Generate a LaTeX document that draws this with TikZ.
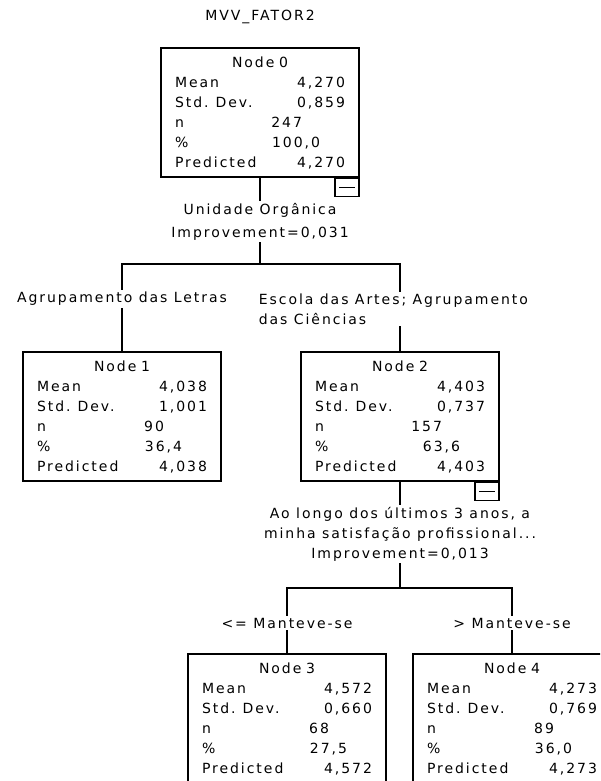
\documentclass[tikz,border=0pt]{standalone}
\usepackage{fontspec}
\setmainfont{DejaVu Sans}[LetterSpace=14]
\usetikzlibrary{positioning,fit,calc}
\tikzset{>=latex}
\tikzset{
	statbox/.style={draw=black, line width=1.6pt, fill=white, minimum width=198pt, minimum height=129pt, text width=170pt, align=left, inner sep=0pt},
	minusbox/.style={draw=black, line width=1.6pt, fill=white, minimum width=24pt, minimum height=18pt, inner sep=0pt,
		path picture={\draw[line width=1pt] ([xshift=4pt]path picture bounding box.west) -- ([xshift=-4pt]path picture bounding box.east);}},
	splitlabel/.style={fill=white, align=center, inner sep=2pt},
}

\begin{document}
\begin{tikzpicture}[x=1pt, y=-1pt, line width=1.6pt, font=\fontsize{14pt}{20pt}\selectfont]

	\useasboundingbox (0,0) rectangle (600,781);
	\clip (0,0) rectangle (600,781);

	\node (title) at (260,17) {MVV\_FATOR2};

	\coordinate (bar0) at (260,264);
	\coordinate (bar2) at (400,588);

	\node (node0) [statbox] at (260,112.5) {\makebox[170pt]{Node 0}\\
		\makebox[170pt]{Mean\hfill 4,270}\\
		\makebox[170pt]{Std. Dev.\hfill 0,859}\\
		\makebox[127pt]{n\hfill 247}\\
		\makebox[145pt]{\%\hfill 100,0}\\
		\makebox[170pt]{Predicted\hfill 4,270}};
	\node (node1) [statbox] at (122,416.5) {\makebox[170pt]{Node 1}\\
		\makebox[170pt]{Mean\hfill 4,038}\\
		\makebox[170pt]{Std. Dev.\hfill 1,001}\\
		\makebox[127pt]{n\hfill 90}\\
		\makebox[145pt]{\%\hfill 36,4}\\
		\makebox[170pt]{Predicted\hfill 4,038}};
	\node (node2) [statbox] at (400,416.5) {\makebox[170pt]{Node 2}\\
		\makebox[170pt]{Mean\hfill 4,403}\\
		\makebox[170pt]{Std. Dev.\hfill 0,737}\\
		\makebox[127pt]{n\hfill 157}\\
		\makebox[145pt]{\%\hfill 63,6}\\
		\makebox[170pt]{Predicted\hfill 4,403}};
	\node (node3) [statbox] at (287,718.5) {\makebox[170pt]{Node 3}\\
		\makebox[170pt]{Mean\hfill 4,572}\\
		\makebox[170pt]{Std. Dev.\hfill 0,660}\\
		\makebox[127pt]{n\hfill 68}\\
		\makebox[145pt]{\%\hfill 27,5}\\
		\makebox[170pt]{Predicted\hfill 4,572}};
	\node (node4) [statbox] at (512,718.5) {\makebox[170pt]{Node 4}\\
		\makebox[170pt]{Mean\hfill 4,273}\\
		\makebox[170pt]{Std. Dev.\hfill 0,769}\\
		\makebox[127pt]{n\hfill 89}\\
		\makebox[145pt]{\%\hfill 36,0}\\
		\makebox[170pt]{Predicted\hfill 4,273}};

	\node (node0-minus) [minusbox, anchor=north east] at (node0.south east) {};
	\node (node2-minus) [minusbox, anchor=north east] at (node2.south east) {};

	% splits
	\draw (node0.south) -- (bar0);
	\draw (node1.north) |- (bar0) -| (node2.north);
	\draw (node2.south) -- (bar2);
	\draw (node3.north) |- (bar2) -| (node4.north);

	\node (split0) [splitlabel] at (260,221.5) {Unidade Orgânica\\[3pt]Improvement=0,031};
	\node (branch1) [splitlabel] at (122,299) {Agrupamento das Letras};
	\node (branch2) [splitlabel, anchor=west, align=left] at (256,309) {Escola das Artes; Agrupamento\\das Ciências};

	\node (split2) [splitlabel] at (400,534) {Ao longo dos últimos 3 anos, a\\minha satisfação profissional...\\Improvement=0,013};
	\node (branch3) [splitlabel] at (287,623) {<= Manteve-se};
	\node (branch4) [splitlabel] at (512,623) {> Manteve-se};

\end{tikzpicture}
\end{document}
